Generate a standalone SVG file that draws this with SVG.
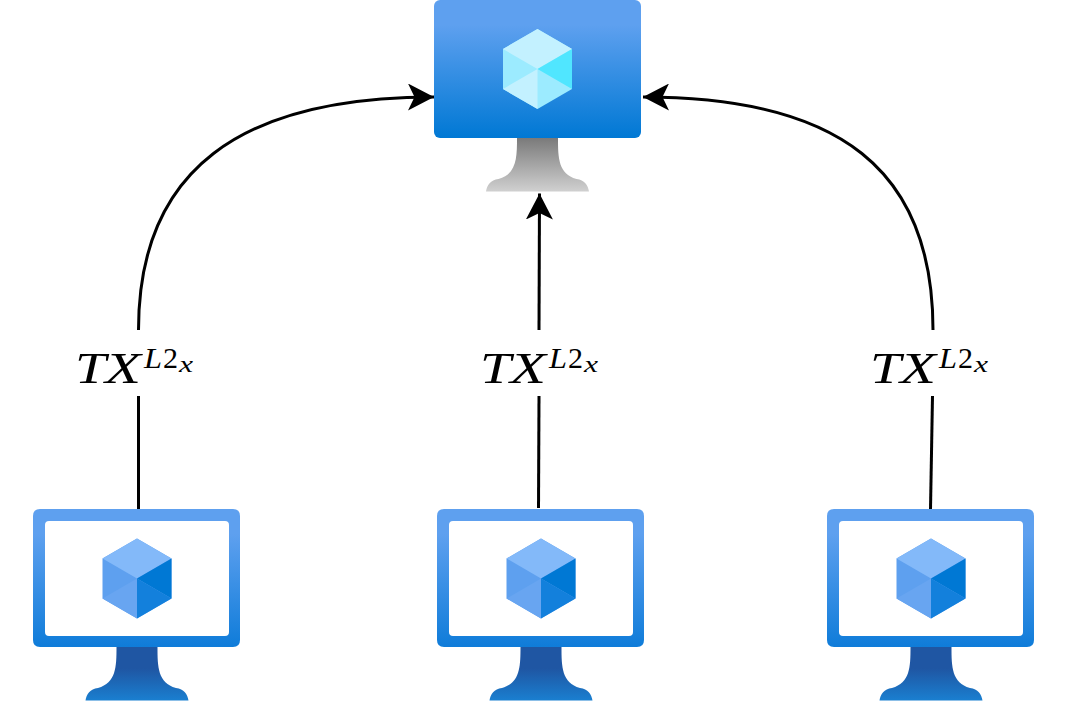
<svg xmlns="http://www.w3.org/2000/svg" xmlns:xlink="http://www.w3.org/1999/xlink" width="1067" height="709" viewBox="0 0 1067 709">
<style>
.line{fill:none;stroke:#000;stroke-width:3}
.t{font-family:"Liberation Serif","DejaVu Serif",serif;font-style:italic;fill:#000}
.m{font-size:44px}
.s{font-size:30px}
.x{font-size:24px}
.n{font-style:normal}
</style>
<defs>
<linearGradient id="blue" x1="0" y1="0" x2="0" y2="1"><stop offset="0" stop-color="#5ea0ef"/><stop offset="0.18" stop-color="#5ea0ef"/><stop offset="1" stop-color="#0078d4"/></linearGradient>
<linearGradient id="frame" x1="0" y1="0" x2="0" y2="1"><stop offset="0" stop-color="#5ea0ef"/><stop offset="0.18" stop-color="#5ea0ef"/><stop offset="1" stop-color="#0f7cd9"/></linearGradient>
<linearGradient id="grey" x1="0" y1="0" x2="0" y2="1"><stop offset="0" stop-color="#7a7a7a"/><stop offset="1" stop-color="#d0d0d0"/></linearGradient>
<linearGradient id="navy" x1="0" y1="0" x2="0" y2="1"><stop offset="0" stop-color="#1f56a3"/><stop offset="0.4" stop-color="#1f56a3"/><stop offset="1" stop-color="#1a7fd0"/></linearGradient>
<marker id="arrow" markerUnits="userSpaceOnUse" markerWidth="27" markerHeight="27" refX="26" refY="13.500" orient="auto" viewBox="0 0 27 27"><path d="M0 0L26 13.500L0 27L6.500 13.500Z" fill="#000"/></marker>
<path id="stand" d="M-20.500 0H20.500C20.500 20 21 36 39 41C47 42 50.500 47 51.500 53.500H-51.500C-50.500 47 -47 42 -39 41C-21 36 -20.500 20 -20.500 0Z"/>
</defs>
<g id="connectors">
<path class="line" d="M138.500 509V396"/>
<path class="line" marker-end="url(#arrow)" d="M138.500 330C138.500 170 240 97 434 97"/>
<path class="line" d="M538.500 508L539 396"/>
<path class="line" marker-end="url(#arrow)" d="M539 330L539.500 193.500"/>
<path class="line" d="M930.500 509L932.500 396"/>
<path class="line" marker-end="url(#arrow)" d="M933 330C933 170 840 97 643 97"/>
</g>
<g id="vm-top">
<rect x="434" y="0" width="207" height="138" rx="6" fill="url(#blue)"/>
<use xlink:href="#stand" href="#stand" transform="translate(537.500 138)" fill="url(#grey)"/>
<path d="M537.500 29L572 49V89L537.500 109L503 89V49Z" fill="#9cebff"/>
<path d="M537.500 29L572 49L537.500 69L503 49Z" fill="#c3f1ff"/>
<path d="M572 49V89L537.500 69Z" fill="#50e6ff"/>
<path d="M503 89L537.500 69V109Z" fill="#c3f1ff"/>
</g>
<g id="vm-left" transform="translate(0 0)">
<path fill-rule="evenodd" d="M40 509H233Q240 509 240 516V640Q240 647 233 647H40Q33 647 33 640V516Q33 509 40 509ZM49 521Q45 521 45 525V632Q45 636 49 636H225Q229 636 229 632V525Q229 521 225 521Z" fill="url(#frame)"/>
<use xlink:href="#stand" href="#stand" transform="translate(137 647)" fill="url(#navy)"/>
<path d="M137 538.500L171.500 558.500V598.500L137 618.500L102.500 598.500V558.500Z" fill="#5ea0ef"/>
<path d="M137 538.500L171.500 558.500L137 578.500L102.500 558.500Z" fill="#83b9f9"/>
<path d="M171.500 558.500V598.500L137 578.500Z" fill="#0078d4"/>
<path d="M102.500 598.500L137 578.500V618.500Z" fill="#68a5f1"/>
<path d="M171.500 598.500L137 618.500V578.500Z" fill="#1380dc"/>
</g>
<g id="vm-middle" transform="translate(404 0)">
<path fill-rule="evenodd" d="M40 509H233Q240 509 240 516V640Q240 647 233 647H40Q33 647 33 640V516Q33 509 40 509ZM49 521Q45 521 45 525V632Q45 636 49 636H225Q229 636 229 632V525Q229 521 225 521Z" fill="url(#frame)"/>
<use xlink:href="#stand" href="#stand" transform="translate(137 647)" fill="url(#navy)"/>
<path d="M137 538.500L171.500 558.500V598.500L137 618.500L102.500 598.500V558.500Z" fill="#5ea0ef"/>
<path d="M137 538.500L171.500 558.500L137 578.500L102.500 558.500Z" fill="#83b9f9"/>
<path d="M171.500 558.500V598.500L137 578.500Z" fill="#0078d4"/>
<path d="M102.500 598.500L137 578.500V618.500Z" fill="#68a5f1"/>
<path d="M171.500 598.500L137 618.500V578.500Z" fill="#1380dc"/>
</g>
<g id="vm-right" transform="translate(794 0)">
<path fill-rule="evenodd" d="M40 509H233Q240 509 240 516V640Q240 647 233 647H40Q33 647 33 640V516Q33 509 40 509ZM49 521Q45 521 45 525V632Q45 636 49 636H225Q229 636 229 632V525Q229 521 225 521Z" fill="url(#frame)"/>
<use xlink:href="#stand" href="#stand" transform="translate(137 647)" fill="url(#navy)"/>
<path d="M137 538.500L171.500 558.500V598.500L137 618.500L102.500 598.500V558.500Z" fill="#5ea0ef"/>
<path d="M137 538.500L171.500 558.500L137 578.500L102.500 558.500Z" fill="#83b9f9"/>
<path d="M171.500 558.500V598.500L137 578.500Z" fill="#0078d4"/>
<path d="M102.500 598.500L137 578.500V618.500Z" fill="#68a5f1"/>
<path d="M171.500 598.500L137 618.500V578.500Z" fill="#1380dc"/>
</g>
<g id="labels">
<g transform="translate(75 0)"><text class="t m" x="0" y="383" textLength="31" lengthAdjust="spacingAndGlyphs">T</text><text class="t m" x="30" y="383" textLength="36" lengthAdjust="spacingAndGlyphs">X</text><text class="t s" x="69" y="368" textLength="18" lengthAdjust="spacingAndGlyphs">L</text><text class="t s n" x="88" y="368" textLength="15" lengthAdjust="spacingAndGlyphs">2</text><text class="t x" x="104" y="372" textLength="14" lengthAdjust="spacingAndGlyphs">x</text></g>
<g transform="translate(480 0)"><text class="t m" x="0" y="383" textLength="31" lengthAdjust="spacingAndGlyphs">T</text><text class="t m" x="30" y="383" textLength="36" lengthAdjust="spacingAndGlyphs">X</text><text class="t s" x="69" y="368" textLength="18" lengthAdjust="spacingAndGlyphs">L</text><text class="t s n" x="88" y="368" textLength="15" lengthAdjust="spacingAndGlyphs">2</text><text class="t x" x="104" y="372" textLength="14" lengthAdjust="spacingAndGlyphs">x</text></g>
<g transform="translate(870 0)"><text class="t m" x="0" y="383" textLength="31" lengthAdjust="spacingAndGlyphs">T</text><text class="t m" x="30" y="383" textLength="36" lengthAdjust="spacingAndGlyphs">X</text><text class="t s" x="69" y="368" textLength="18" lengthAdjust="spacingAndGlyphs">L</text><text class="t s n" x="88" y="368" textLength="15" lengthAdjust="spacingAndGlyphs">2</text><text class="t x" x="104" y="372" textLength="14" lengthAdjust="spacingAndGlyphs">x</text></g>
</g>
</svg>
